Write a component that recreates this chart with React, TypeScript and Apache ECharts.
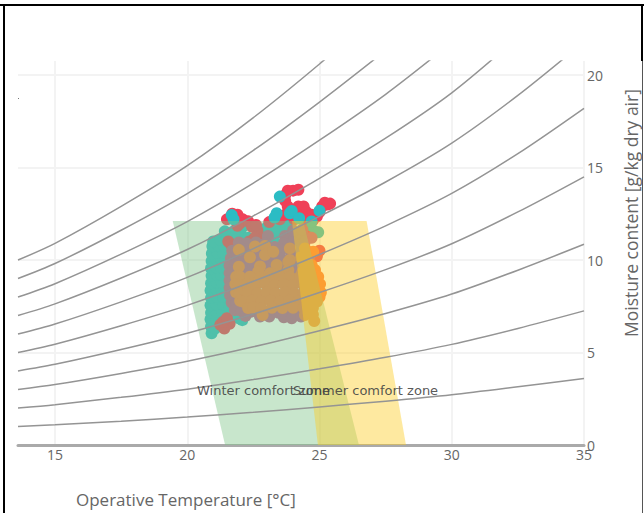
import React, { useEffect, useRef } from "react";
import * as echarts from "echarts";

const xTicks = [15, 20, 25, 30, 35];
const yTicks = [0, 5, 10, 15, 20];
const curveT = [13.6, 15, 17.5, 20, 22.5, 25, 27.5, 30, 32.5, 35];
const rh10 = [1.0, 1.09, 1.29, 1.51, 1.77, 2.06, 2.37, 2.72, 3.15, 3.6];
const rh20 = [2.0, 2.18, 2.58, 3.02, 3.54, 4.12, 4.74, 5.44, 6.3, 7.25];
const rh30 = [3.0, 3.27, 3.87, 4.53, 5.31, 6.18, 7.11, 8.16, 9.45, 10.85];
const rh40 = [4.0, 4.36, 5.16, 6.04, 7.08, 8.24, 9.48, 10.88, 12.6, 14.5];
const rh50 = [5.0, 5.45, 6.45, 7.55, 8.85, 10.3, 11.85, 13.6, 15.75, 18.2];
const rh60 = [6.0, 6.54, 7.74, 9.06, 10.62, 12.36, 14.22, 16.32, 18.9, 21.8];
const rh70 = [7.0, 7.63, 9.03, 10.57, 12.39, 14.42, 16.59, 19.04, 22.05];
const rh80 = [8.0, 8.72, 10.32, 12.08, 14.16, 16.48, 18.96, 21.76];
const rh90 = [9.0, 9.81, 11.61, 13.59, 15.93, 18.54, 21.33];
const rh100 = [10.0, 10.9, 12.9, 15.1, 17.7, 20.6, 23.7];
const curves = [rh10, rh20, rh30, rh40, rh50, rh60, rh70, rh80, rh90, rh100];

const winterZone = [[19.45, 12.11], [24.38, 12.11], [26.49, 0], [21.43, 0]];
const summerZone = [[23.96, 12.11], [26.78, 12.11], [28.27, 0], [24.94, 0]];
const zoneLabels: [string, number, number][] = [
  ["Winter comfort zone", 22.88, 2.97],
  ["Summer comfort zone", 26.74, 2.97],
];

const tealPoints = [
  [20.92, 6.04], [20.9, 6.4], [21.05, 6.3], [20.88, 6.8], [21.1, 6.75], [21.3, 6.9], [20.9, 7.15], [21.1, 7.2], [21.32, 7.25], [21.55, 7.1],
  [21.75, 7.0], [21.95, 6.85], [22.08, 6.75], [20.88, 7.55], [21.1, 7.6], [21.35, 7.6], [21.6, 7.45], [20.9, 7.95], [21.12, 8.0], [21.35, 8.0],
  [20.88, 8.35], [21.1, 8.4], [21.3, 8.4], [20.9, 8.75], [21.12, 8.8], [21.3, 8.8], [20.92, 9.15], [21.12, 9.2], [21.28, 9.2], [20.9, 9.55],
  [21.1, 9.6], [21.28, 9.6], [20.92, 9.95], [21.12, 10.0], [21.3, 10.0], [20.93, 10.35], [21.14, 10.4], [21.35, 10.4], [20.95, 10.75], [21.16, 10.8],
  [21.4, 10.75], [20.98, 11.0], [21.25, 11.1], [21.42, 11.55], [21.75, 11.54], [22.0, 11.45], [22.3, 11.2], [22.1, 11.8], [21.5, 11.25], [21.85, 11.1],
  [23.0, 11.75], [23.25, 11.9], [23.5, 11.95], [23.75, 12.0], [23.15, 11.45], [23.45, 11.5], [23.7, 11.6], [23.9, 11.55], [23.38, 10.9], [23.2, 11.15],
  [24.76, 11.6], [24.95, 11.5], [24.5, 11.85], [23.9, 11.95], [22.9, 11.45],
];
const redPoints = [
  [23.8, 13.75], [24.0, 13.75], [24.2, 13.8], [23.7, 13.5], [23.7, 13.2], [23.8, 12.9], [24.0, 12.7], [24.2, 12.9], [24.4, 12.9], [24.5, 12.6],
  [24.7, 12.45], [24.9, 12.35], [25.1, 12.9], [25.2, 13.1], [25.4, 13.05], [25.3, 13.0], [25.0, 12.6], [21.9, 12.45], [21.7, 12.5], [22.1, 12.2],
  [22.3, 12.1], [23.4, 12.3], [23.5, 12.2], [24.2, 12.4], [24.45, 12.2], [24.75, 12.15], [23.1, 12.05], [23.7, 12.45], [24.05, 12.2], [21.5, 12.2],
  [22.0, 12.0], [22.45, 11.8], [22.65, 11.6], [22.85, 11.2], [22.55, 11.2], [22.35, 11.0], [21.55, 11.0], [21.65, 10.85], [21.9, 11.85], [22.6, 11.9],
  [22.9, 11.0], [21.25, 6.5], [21.4, 6.3], [21.6, 6.55], [21.35, 6.65], [21.5, 6.85], [24.4, 11.4], [24.55, 11.25], [25.0, 10.5], [24.9, 10.2],
];
const tealTopPoints = [
  [21.68, 12.43], [21.75, 12.2], [23.5, 13.43], [23.38, 12.53], [23.88, 12.53], [23.95, 12.65], [24.23, 12.26], [25.0, 12.67], [24.7, 12.08], [23.3, 12.3],
];
const mauvePoints = [
  [23.05, 11.3], [23.7, 11.3], [24.05, 11.25], [24.4, 11.3], [21.95, 10.95], [22.25, 10.9], [22.6, 10.95], [22.95, 10.9], [23.3, 10.7], [23.65, 10.9],
  [24.0, 10.95], [24.35, 10.9], [21.7, 10.5], [21.85, 10.5], [22.2, 10.55], [22.55, 10.45], [22.85, 10.5], [23.2, 10.5], [23.55, 10.55], [23.9, 10.5],
  [24.25, 10.5], [24.55, 10.45], [21.65, 10.1], [21.8, 10.1], [22.15, 10.1], [22.5, 10.05], [22.85, 10.1], [23.2, 10.1], [23.55, 10.1], [23.9, 10.1],
  [24.25, 10.1], [24.6, 10.1], [21.6, 9.7], [21.8, 9.7], [22.15, 9.7], [22.5, 9.65], [22.85, 9.7], [23.2, 9.7], [23.55, 9.7], [23.9, 9.7],
  [24.25, 9.7], [24.55, 9.7], [21.6, 9.3], [21.7, 9.3], [22.0, 9.3], [22.35, 9.3], [22.7, 9.3], [23.05, 9.3], [23.4, 9.3], [23.75, 9.3],
  [24.1, 9.3], [24.5, 9.3], [21.6, 8.9], [21.7, 8.9], [21.6, 8.5], [21.62, 8.1], [21.68, 7.7], [21.85, 7.65], [21.8, 7.3], [22.05, 7.25],
  [22.4, 7.2], [22.75, 7.15], [23.1, 7.2], [23.45, 7.15], [23.8, 7.2], [24.15, 7.2], [24.45, 7.2], [22.2, 6.98], [22.75, 6.95], [23.1, 6.95],
  [23.65, 6.9], [23.95, 6.85], [24.3, 6.95], [24.0, 11.6], [24.35, 11.65], [24.7, 11.2], [24.45, 11.0],
];
const orangePoints = [
  [21.95, 10.55], [22.56, 10.73], [22.94, 10.76], [22.37, 10.15], [22.94, 10.28], [23.25, 10.45], [23.88, 10.63], [24.45, 10.63], [24.76, 10.45], [23.88, 10.0],
  [23.38, 9.73], [23.82, 9.9], [22.75, 9.65], [22.68, 9.37], [21.95, 9.64], [23.12, 9.28], [23.44, 9.28], [23.82, 9.46], [24.45, 10.2], [24.7, 9.73],
  [24.83, 9.46], [24.3, 10.15], [24.45, 9.8], [24.35, 9.35], [24.6, 9.5], [21.85, 9.1], [21.99, 9.1], [22.37, 9.1], [22.75, 9.05], [23.12, 9.05],
  [23.5, 9.1], [23.88, 9.1], [24.26, 9.1], [24.64, 9.1], [24.95, 9.1], [21.82, 8.7], [21.95, 8.65], [22.25, 8.7], [22.6, 8.65], [22.95, 8.7],
  [23.3, 8.65], [23.65, 8.7], [24.0, 8.65], [24.35, 8.7], [24.7, 8.65], [25.02, 8.7], [21.85, 8.25], [21.98, 8.2], [22.3, 8.25], [22.65, 8.2],
  [23.0, 8.25], [23.35, 8.2], [23.7, 8.25], [24.05, 8.2], [24.4, 8.25], [24.75, 8.2], [25.05, 8.25], [22.0, 7.8], [22.1, 7.75], [22.45, 7.8],
  [22.8, 7.75], [23.15, 7.8], [23.5, 7.75], [23.85, 7.8], [24.2, 7.75], [24.55, 7.8], [24.9, 7.75], [25.0, 8.0], [22.3, 7.4], [22.5, 7.42],
  [22.8, 7.4], [23.2, 7.42], [23.6, 7.4], [24.0, 7.42], [24.4, 7.4], [24.75, 7.4], [22.85, 7.03], [24.45, 7.03], [24.75, 7.05], [24.8, 6.7],
];

const axisText = { color: "#666", fontFamily: "Open Sans", fontSize: 14 };
const scatter = (data: number[][], color: string) => ({
  type: "scatter", data, symbolSize: 12, z: 2, itemStyle: { color, opacity: 1 },
});
const zone = (pts: number[][], color: string) => ({
  type: "custom",
  z: 3,
  data: [0],
  renderItem: (_p: any, api: any) => ({
    type: "polygon",
    shape: { points: pts.map((p) => api.coord(p)) },
    style: { fill: color },
  }),
});

export default function App() {
  const ref = useRef<HTMLDivElement>(null);
  useEffect(() => {
    const chart = echarts.init(ref.current!, null, { renderer: "svg" });
    chart.setOption({
      animation: false,
      backgroundColor: "#fff",
      grid: { left: 18, right: 60, top: 61, bottom: 68, outerBoundsMode: "none" },
      xAxis: {
        type: "value", min: 13.6, max: 35,
        axisLine: { show: true, onZero: false, lineStyle: { color: "#aaa", width: 3 } },
        axisTick: { show: false, customValues: xTicks },
        axisLabel: { ...axisText, margin: 2, customValues: xTicks },
        splitLine: { show: true, lineStyle: { color: "#f3f3f3", width: 2 } },
      },
      yAxis: {
        type: "value", min: 0, max: 20.76, position: "right",
        axisLine: { show: false },
        axisTick: { show: false, customValues: yTicks },
        axisLabel: { ...axisText, margin: 3, customValues: yTicks },
        splitLine: { show: true, lineStyle: { color: "#f3f3f3", width: 2 } },
      },
      series: [
        scatter(tealPoints, "#2bbcc4"),
        scatter(redPoints, "#ef4058"),
        scatter(tealTopPoints, "#2bbcc4"),
        scatter(mauvePoints, "#bd5f8c"),
        scatter(orangePoints, "#fb793f"),
        zone(winterZone, "rgba(128,197,137,0.43)"),
        zone(summerZone, "rgba(253,205,35,0.43)"),
        ...curves.map((c) => ({
          type: "line", z: 4, smooth: 0.3, showSymbol: false, silent: true,
          data: c.map((v, i) => [curveT[i], v]),
          lineStyle: { color: "#949494", width: 1.5 },
        })),
        {
          type: "scatter", z: 5, symbolSize: 0, silent: true,
          data: zoneLabels.map((l) => ({ name: l[0], value: [l[1], l[2]] })),
          label: {
            show: true, position: "inside", formatter: "{b}",
            color: "#444", opacity: 0.9, fontFamily: "DejaVu Sans", fontSize: 13,
          },
        },
      ],
      graphic: [
        { type: "rect", shape: { x: 0, y: 4, width: 644, height: 2 }, style: { fill: "#000" } },
        { type: "rect", shape: { x: 3, y: 5, width: 2, height: 508 }, style: { fill: "#000" } },
        { type: "rect", shape: { x: 641, y: 5, width: 2, height: 56 }, style: { fill: "#000" } },
        { type: "rect", shape: { x: 642, y: 61, width: 1, height: 452 }, style: { fill: "#555" } },
        { type: "rect", shape: { x: 18, y: 98, width: 1, height: 1 }, style: { fill: "#777" } },
        {
          type: "text", x: 76, y: 499,
          style: { text: "Operative Temperature [°C]", fill: "#666", font: "17px 'Open Sans'", textVerticalAlign: "middle" },
        },
        {
          type: "text", x: 631, y: 213, rotation: Math.PI / 2,
          style: {
            text: "Moisture content [g/kg dry air]", fill: "#666", font: "17.5px 'Open Sans'",
            textAlign: "center", textVerticalAlign: "middle",
          },
        },
      ],
    });
    return () => chart.dispose();
  }, []);
  return <div ref={ref} style={{ position: "absolute", left: 0, top: 0, width: 644, height: 513 }} />;
}
